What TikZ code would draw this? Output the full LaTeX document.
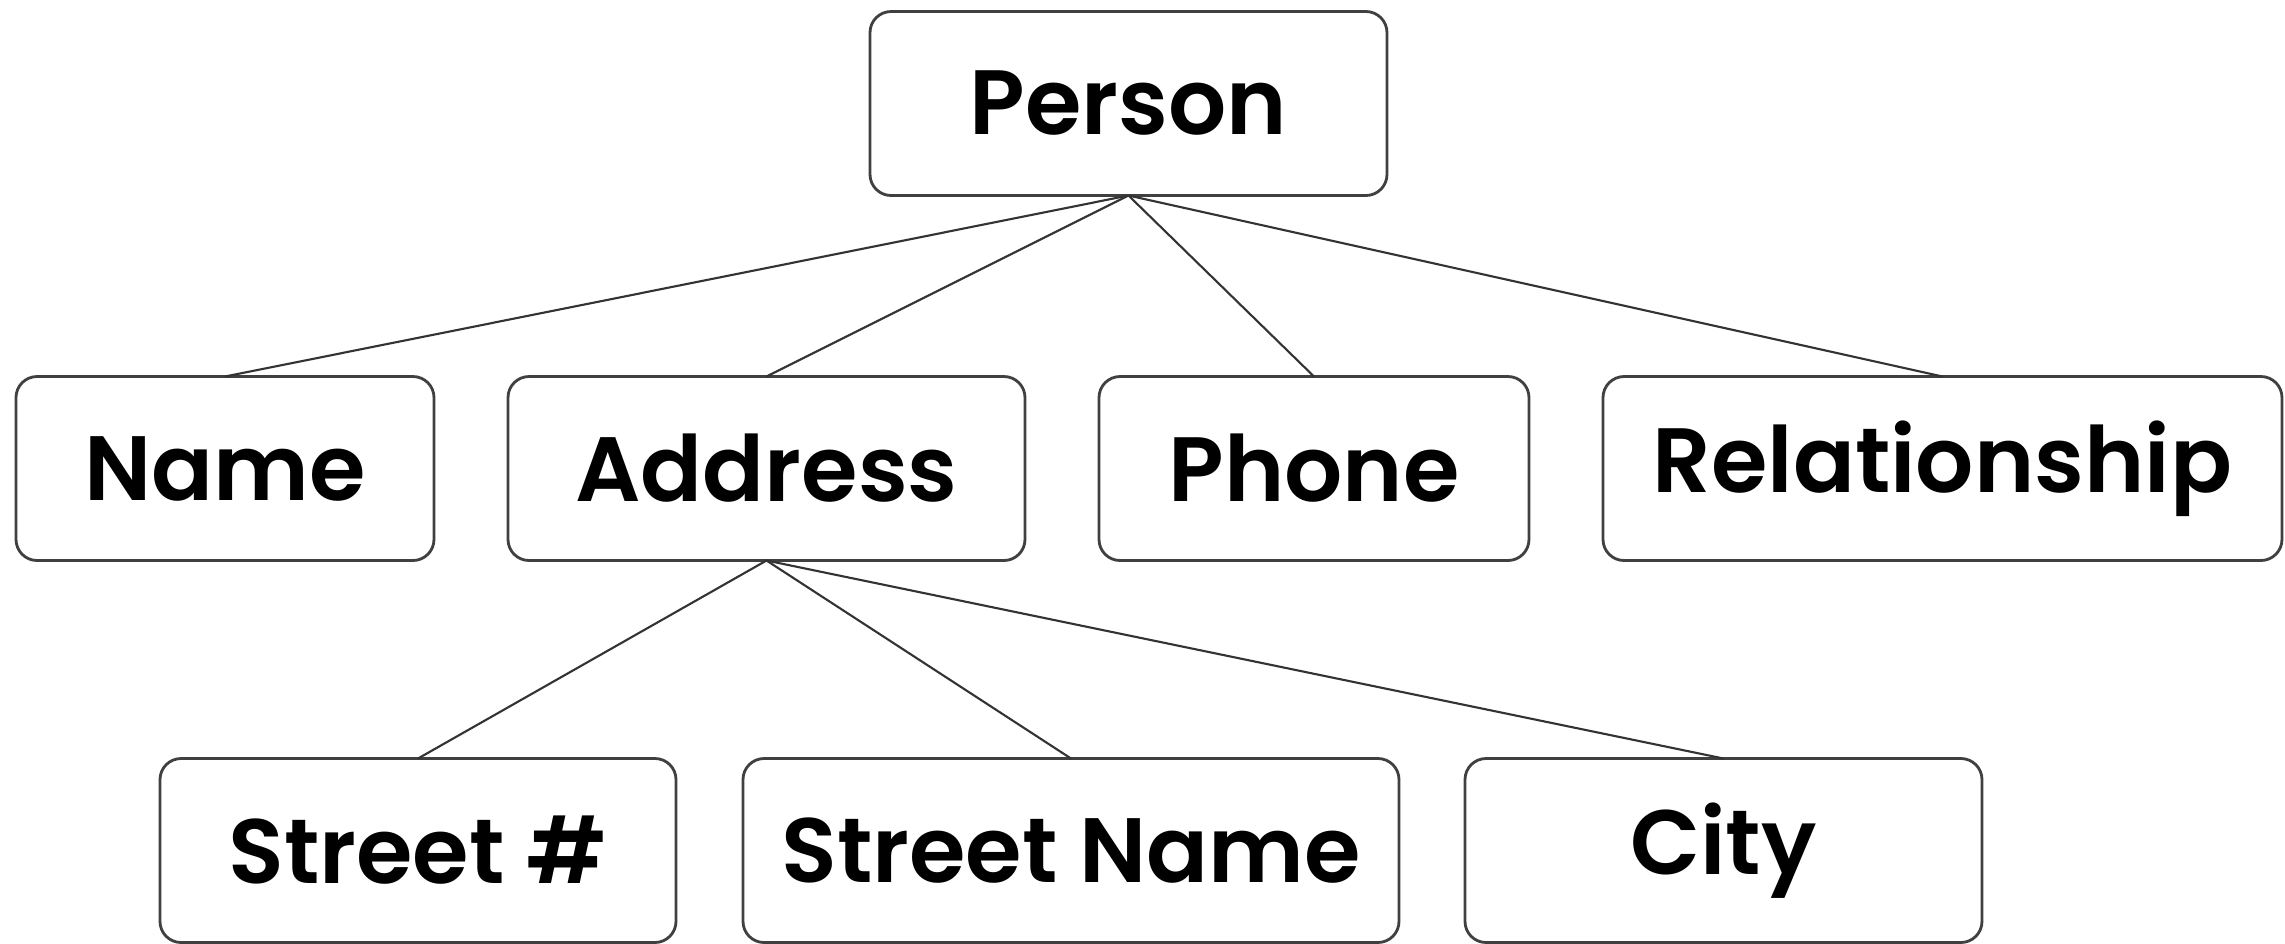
\documentclass[tikz,border=0pt]{standalone}
\usepackage{fontspec}
\setmainfont{Poppins}[BoldFont={* SemiBold}]
\usepackage{tikz}
\usetikzlibrary{positioning}

\begin{document}
\begin{tikzpicture}[
    node distance=0.74cm,
    box/.style={draw=black!75, line width=0.8pt, rounded corners=6pt, align=center,
      minimum height=1.84cm, inner sep=0pt, outer sep=0pt,
      font=\fontsize{26}{31}\selectfont\bfseries},
    link/.style={draw=black!80, line width=0.6pt}
  ]
    \useasboundingbox (0,0) rectangle (22.85,-9.43);

    \node[box, minimum width=5.17cm] (person) at (11.285,-1.035) {Person};

    \node[box, minimum width=4.18cm] (name) at (2.25,-4.685) {Name};
    \node[box, minimum width=5.17cm, right=of name] (address) {Address};
    \node[box, minimum width=4.30cm, right=of address] (phone) {Phone};
    \node[box, minimum width=6.79cm, right=of phone] (relation) {Relationship};

    \node[box, minimum width=5.16cm] (streetno) at (4.18,-8.505) {Street \#};
    \node[box, minimum width=6.56cm, right=0.67cm of streetno] (streetname) {Street Name};
    \node[box, minimum width=5.17cm, right=0.66cm of streetname] (city) {City};

    \draw[link] (person.south) -- (name.north);
    \draw[link] (person.south) -- (address.north);
    \draw[link] (person.south) -- (phone.north);
    \draw[link] (person.south) -- (relation.north);
    \draw[link] (address.south) -- (streetno.north);
    \draw[link] (address.south) -- (streetname.north);
    \draw[link] (address.south) -- (city.north);
  \end{tikzpicture}
\end{document}
